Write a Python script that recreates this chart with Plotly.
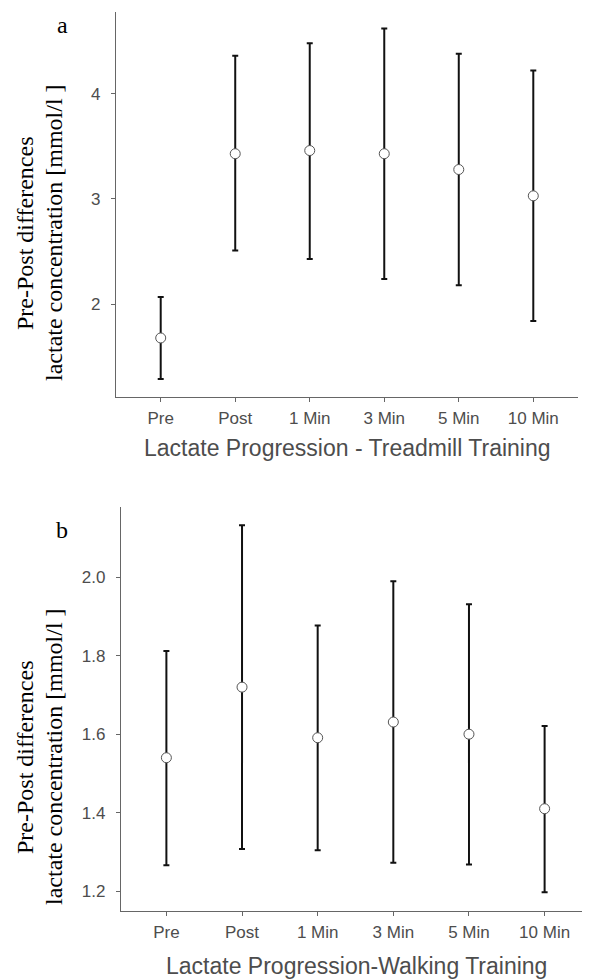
import plotly.graph_objects as go

categories = ["Pre", "Post", "1 Min", "3 Min", "5 Min", "10 Min"]

# Panel a: Treadmill training
a_mean = [1.68, 3.43, 3.46, 3.43, 3.28, 3.03]
a_upper = [2.07, 4.36, 4.48, 4.62, 4.38, 4.22]
a_lower = [1.29, 2.51, 2.43, 2.24, 2.18, 1.84]

# Panel b: Walking training
b_mean = [1.540, 1.720, 1.591, 1.631, 1.600, 1.410]
b_upper = [1.812, 2.133, 1.877, 1.990, 1.931, 1.621]
b_lower = [1.266, 1.307, 1.304, 1.272, 1.268, 1.197]

a_ticks = [2, 3, 4]
b_ticks = [1.2, 1.4, 1.6, 1.8, 2.0]
b_ticktext = ["1.2", "1.4", "1.6", "1.8", "2.0"]

OFF = 8  # page body margin
W, H = 582, 971
AX = "#4d4d4d"


def px(x):
    return (x - OFF) / W


def py(y):
    return 1 - (y - OFF) / H


fig = go.Figure()


def add_panel(mean, upper, lower, xa, ya):
    fig.add_trace(go.Scatter(
        x=categories, y=mean, mode="markers",
        xaxis=xa, yaxis=ya,
        marker=dict(size=10, color="white", line=dict(color="#555555", width=1)),
        error_y=dict(type="data", symmetric=False,
                     array=[u - m for u, m in zip(upper, mean)],
                     arrayminus=[m - l for m, l in zip(mean, lower)],
                     color="#111111", thickness=2, width=3),
        showlegend=False,
    ))


add_panel(a_mean, a_upper, a_lower, "x", "y")
add_panel(b_mean, b_upper, b_lower, "x2", "y2")

tickfont = dict(family="Liberation Sans, Arial", size=17, color=AX)
common_x = dict(type="category", range=[-0.6, 5.6], showline=True, linecolor="#666666", linewidth=1.3,
                ticks="outside", ticklen=4, tickcolor="#666666", showgrid=False, zeroline=False,
                tickfont=tickfont, ticklabelstandoff=2)
common_y = dict(showline=True, linecolor="#666666", linewidth=1.3, ticks="outside", ticklen=4,
                tickcolor="#666666", showgrid=False, zeroline=False,
                tickfont=tickfont, ticklabelstandoff=7)

fig.update_layout(
    width=W, height=H, margin=dict(l=0, r=0, t=0, b=0),
    paper_bgcolor="white", plot_bgcolor="white",
    xaxis=dict(domain=[px(116), px(578)], anchor="y", **common_x),
    yaxis=dict(domain=[py(396.5), py(12)], anchor="x", range=[1.124, 4.776],
               tickvals=a_ticks, **common_y),
    xaxis2=dict(domain=[px(121), 1.0], anchor="y2", **common_x),
    yaxis2=dict(domain=[py(910.7), py(506.7)], anchor="x2", range=[1.150, 2.18],
                tickvals=b_ticks, ticktext=b_ticktext, **common_y),
)

serif = dict(family="Liberation Serif, Times New Roman", size=24, color="black")
sans_title = dict(family="Liberation Sans, Arial", size=23, color=AX)

annos = [
    dict(text="a", x=px(62), y=py(25), font=serif),
    dict(text="b", x=px(62), y=py(530), font=serif),
    dict(text="Pre-Post differences", x=px(25), y=py(233), textangle=-90, font=serif),
    dict(text="lactate concentration [mmol/l ]", x=px(54), y=py(233), textangle=-90, font=serif),
    dict(text="Pre-Post differences", x=px(25), y=py(757), textangle=-90, font=serif),
    dict(text="lactate concentration [mmol/l ]", x=px(54), y=py(757), textangle=-90, font=serif),
    dict(text="Lactate Progression - Treadmill Training", x=px(347.5), y=py(448), font=sans_title),
    dict(text="Lactate Progression-Walking Training", x=px(356), y=py(966), font=sans_title),
]
for a in annos:
    a.update(xref="paper", yref="paper", showarrow=False, xanchor="center", yanchor="middle")
    fig.add_annotation(**a)

fig.write_html("out.html")
